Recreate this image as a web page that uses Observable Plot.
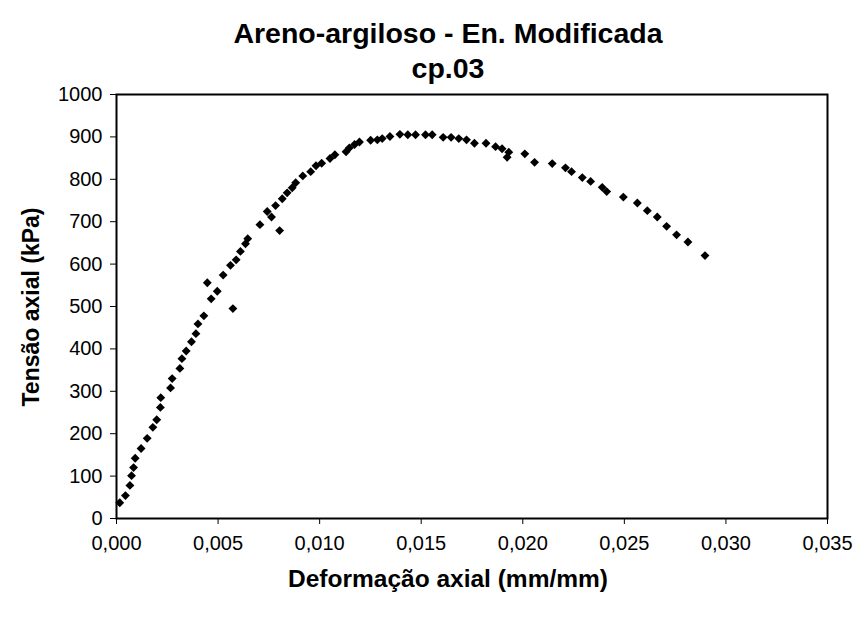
<!DOCTYPE html>
<html><head><meta charset="utf-8">
<script src="https://cdn.jsdelivr.net/npm/d3@7"></script>
<script src="https://cdn.jsdelivr.net/npm/@observablehq/plot@0.6"></script>
<style>body{margin:0;background:#fff;}</style>
</head><body><div id="chart"></div>
<script>
const titleText = "Areno-argiloso - En. Modificada";
const subtitleText = "cp.03";
const xLabel = "Deformação axial (mm/mm)";
const yLabel = "Tensão axial (kPa)";

const strain = [0.00016,0.00044,0.00066,0.00074,0.00084,0.00092,0.00121,0.00151,0.00179,0.00198,0.00216,0.00218,0.00266,0.00274,0.00312,0.00322,0.00343,0.00369,0.00391,0.00401,0.0043,0.00447,0.00466,0.00496,0.00525,0.00573,0.00561,0.00589,0.0061,0.00635,0.00646,0.00706,0.00742,0.00763,0.00803,0.00783,0.00816,0.0084,0.00865,0.00882,0.00917,0.00956,0.00982,0.0101,0.01051,0.01075,0.0113,0.01146,0.01172,0.01196,0.01251,0.01284,0.01308,0.01346,0.01395,0.01434,0.01472,0.01521,0.01554,0.01608,0.01647,0.01685,0.01723,0.01762,0.01819,0.01866,0.01898,0.01931,0.01923,0.0201,0.02058,0.02145,0.0221,0.0224,0.02293,0.02334,0.02391,0.02413,0.02495,0.02564,0.02613,0.02662,0.02708,0.02757,0.02813,0.02897];
const stress = [37,54,78,101,120,142,165,189,215,233,262,285,308,330,354,377,395,417,436,459,478,556,518,536,574,495,597,610,630,648,660,693,724,711,679,738,754,768,780,792,808,818,832,838,849,858,865,874,882,888,892,893,896,901,906,905,905,905,905,899,899,896,893,885,885,877,872,864,852,860,840,837,827,818,804,795,781,771,758,744,726,711,689,669,652,620];

const xTicks = [0,0.005,0.010,0.015,0.020,0.025,0.030,0.035];
const yTicks = [0,100,200,300,400,500,600,700,800,900,1000];

const data = strain.map((x, i) => ({x, y: stress[i]}));
const font = "'Liberation Sans', Arial, sans-serif";

const plot = Plot.plot({
  width: 859, height: 621,
  marginLeft: 116, marginRight: 32, marginTop: 94, marginBottom: 103,
  style: {fontFamily: font, fontSize: "20px", color: "#000", background: "#fff", overflow: "visible"},
  x: {domain: [0, 0.035]},
  y: {domain: [0, 1000]},
  marks: [
    Plot.axisX({ticks: xTicks, tickFormat: d => d.toFixed(3).replace(".", ","), label: null, tickSize: 6, tickPadding: 11, fontSize: 20, strokeWidth: 1}),
    Plot.axisY({ticks: yTicks, tickFormat: d => String(d), label: null, tickSize: 6, tickPadding: 8, fontSize: 20, strokeWidth: 1}),
    Plot.frame({stroke: "#000", strokeWidth: 2}),
    Plot.dot(data, {x: "x", y: "y", symbol: "diamond2", r: 4, fill: "#000", stroke: "none"})
  ]
});
document.getElementById("chart").appendChild(plot);

const svg = d3.select(plot);
svg.append("text").attr("x", 448).attr("y", 43).attr("text-anchor", "middle")
  .style("font-family", font).style("font-weight", "bold").style("font-size", "28.5px").text(titleText);
svg.append("text").attr("x", 448).attr("y", 78).attr("text-anchor", "middle")
  .style("font-family", font).style("font-weight", "bold").style("font-size", "28.5px").text(subtitleText);
svg.append("text").attr("x", 448).attr("y", 587).attr("text-anchor", "middle")
  .style("font-family", font).style("font-weight", "bold").style("font-size", "24.5px").text(xLabel);
svg.append("text").attr("transform", "translate(39,307) rotate(-90)").attr("text-anchor", "middle")
  .style("font-family", font).style("font-weight", "bold").style("font-size", "23px").text(yLabel);
</script>
</body></html>
